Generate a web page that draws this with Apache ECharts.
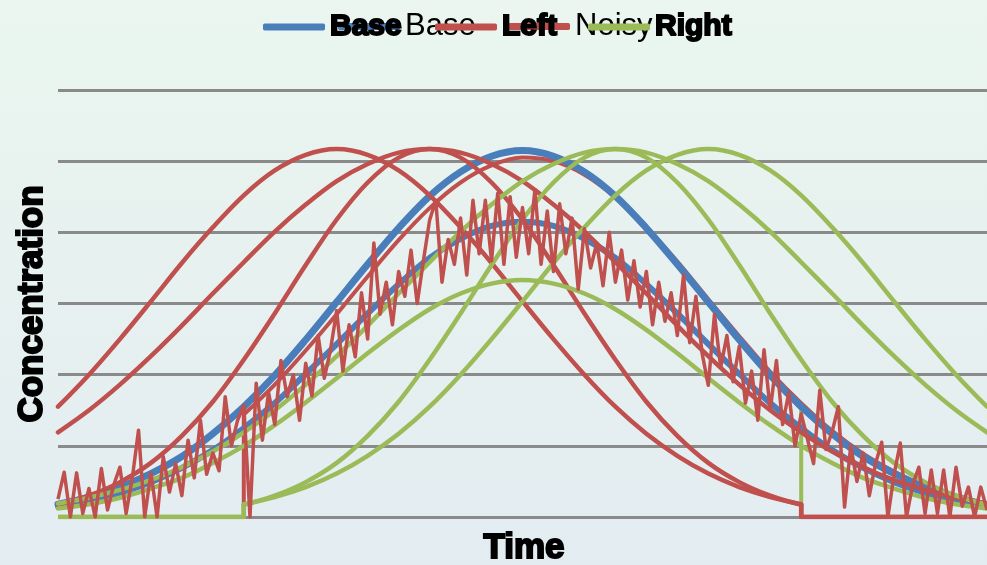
<!DOCTYPE html>
<html>
<head>
<meta charset="utf-8">
<script src="https://cdn.jsdelivr.net/npm/echarts@6/dist/echarts.min.js"></script>
<style>
  html, body { margin: 0; padding: 0; }
  #chart { width: 987px; height: 565px; }
</style>
</head>
<body>
<div id="chart"></div>
<script>
// Sample times for the smooth profiles (every 5 time units)
const T = [0,5,10,15,20,25,30,35,40,45,50,55,60,65,70,75,80,85,90,95,100,105,110,115,120,125,130,135,140,145,150];

// Base profiles
const baseTall = [0.18,0.28,0.42,0.61,0.85,1.17,1.55,1.99,2.49,3.02,3.55,4.06,4.51,4.85,5.07,5.15,5.07,4.85,4.51,4.06,3.55,3.02,2.49,1.99,1.55,1.17,0.85,0.61,0.42,0.28,0.16];
const baseLow  = [0.15,0.23,0.34,0.49,0.69,0.94,1.25,1.60,2.01,2.43,2.86,3.27,3.64,3.91,4.09,4.15,4.09,3.91,3.64,3.27,2.86,2.43,2.01,1.60,1.25,0.94,0.69,0.49,0.34,0.23,0.15];

// Left-shifted profiles (zero once shifted past the end)
const leftFar    = [1.55,2.00,2.50,3.03,3.57,4.07,4.52,4.87,5.09,5.17,5.09,4.87,4.52,4.07,3.57,3.03,2.50,2.00,1.55,1.17,0.86,0.61,0.42,0.28,0.18,0,0,0,0,0,0];
const leftNarrow = [0.17,0.30,0.49,0.76,1.14,1.62,2.21,2.86,3.54,4.18,4.70,5.05,5.17,5.05,4.70,4.18,3.54,2.86,2.21,1.62,1.14,0.76,0.49,0.30,0.17,0,0,0,0,0,0];
const leftWide   = [1.19,1.50,1.86,2.26,2.69,3.14,3.58,4.01,4.39,4.72,4.96,5.12,5.17,5.12,4.96,4.72,4.39,4.01,3.58,3.14,2.69,2.26,1.86,1.50,1.19,0.92,0.70,0.52,0.38,0.27,0.19];
// Base trace starting late (zero before t = 30)
const leftBase   = [0,0,0,0,0,0,1.44,1.86,2.34,2.85,3.38,3.89,4.34,4.70,4.94,5.05,5.00,4.81,4.49,4.07,3.59,3.06,2.54,2.04,1.60,1.21,0.89,0.64,0.44,0.30,0.19];

// Right-shifted profiles (zero before the shift)
const rightFar    = [0,0,0,0,0,0,0.18,0.28,0.42,0.61,0.86,1.17,1.55,2.00,2.50,3.03,3.57,4.07,4.52,4.87,5.09,5.17,5.09,4.87,4.52,4.07,3.57,3.03,2.50,2.00,1.55];
const rightNarrow = [0,0,0,0,0,0,0.17,0.30,0.49,0.76,1.14,1.62,2.21,2.86,3.54,4.18,4.70,5.05,5.17,5.05,4.70,4.18,3.54,2.86,2.21,1.62,1.14,0.76,0.49,0.30,0.17];
const rightWide   = [0.19,0.27,0.38,0.52,0.70,0.92,1.19,1.50,1.86,2.26,2.69,3.14,3.58,4.01,4.39,4.72,4.96,5.12,5.17,5.12,4.96,4.72,4.39,4.01,3.58,3.14,2.69,2.26,1.86,1.50,1.19];
const rightLow    = [0.12,0.18,0.27,0.40,0.55,0.76,1.00,1.29,1.61,1.95,2.30,2.63,2.92,3.14,3.28,3.33,3.28,3.14,2.92,2.63,2.30,1.95,1.61,1.29,1.00,0.76,0.55,0.40,0.27,0.18,0.12];
// Base trace ending early (zero after t = 120)
const rightBase   = [0.18,0.28,0.42,0.61,0.85,1.17,1.55,1.99,2.49,3.02,3.55,4.06,4.51,4.85,5.07,5.15,5.07,4.85,4.51,4.06,3.55,3.02,2.49,1.99,1.52,0,0,0,0,0,0];

// Noisy measurement, one value per time unit (t = 0..150)
const noisy = [
  0.25,0.63,0.00,0.62,0.05,0.40,0.00,0.68,0.10,0.45,0.70,
  0.05,0.55,1.22,0.00,0.62,0.00,0.85,0.35,0.75,0.30,
  1.08,0.55,1.36,0.60,0.90,0.65,1.69,1.00,1.36,1.57,
  0.00,1.88,1.08,1.75,1.30,2.20,1.69,2.00,1.36,2.16,
  1.70,2.55,1.95,2.35,2.90,2.05,2.70,2.25,3.15,2.50,
  3.85,2.85,3.30,2.70,3.45,3.10,3.75,3.00,3.60,4.17,
  4.45,3.30,3.90,3.55,4.20,3.40,4.45,3.70,4.45,3.60,
  4.55,3.55,4.50,3.65,4.35,3.70,4.60,3.55,4.30,3.45,
  4.40,3.70,4.20,3.20,4.05,3.50,3.85,3.25,4.00,3.30,
  3.75,3.05,3.60,2.95,3.45,2.70,3.30,2.75,3.15,2.55,
  3.40,2.45,3.10,2.30,1.85,2.85,2.10,2.55,1.90,2.40,
  1.60,2.05,1.36,2.35,1.50,2.20,1.30,1.75,1.00,1.45,
  1.10,0.75,1.78,0.95,1.20,1.55,0.14,1.00,0.50,0.90,
  0.30,0.75,1.05,0.00,0.60,1.04,0.00,0.45,0.70,0.05,
  0.66,0.05,0.66,0.00,0.70,0.15,0.42,0.00,0.42,0.10
];

// Legend labels
const LEGEND_BOLD = ['Base', 'Left', 'Right'];
const LEGEND_PLAIN = ['Base', 'Noisy'];

const BLUE = '#4a7ebb';
const RED = '#c0504d';
const GREEN = '#9bbb59';
const FONT = '"Liberation Sans", Arial, sans-serif';

// A profile is drawn as a smooth curve over its non-zero stretch plus a straight
// zero-padded stretch that meets the curve with a vertical edge.
function profileSeries(name, vals, color, width, z) {
  const curvePts = [], padPts = [];
  let first = -1, last = -1;
  vals.forEach((v, i) => { if (v > 0) { if (first < 0) first = i; last = i; } });
  for (let i = first; i <= last; i++) curvePts.push([T[i], vals[i]]);
  if (first > 0) padPts.push([T[0], 0], [T[first], 0], [T[first], vals[first]]);
  if (last < vals.length - 1) {
    if (padPts.length) padPts.push(null);
    padPts.push([T[last], vals[last]], [T[last], 0], [T[vals.length - 1], 0]);
  }
  const common = { type: 'line', symbol: 'none', z, silent: true, itemStyle: { color } };
  const out = [{
    ...common, name, data: curvePts, smooth: 0.35,
    lineStyle: { color, width, cap: 'round', join: 'round' }
  }];
  if (padPts.length) {
    out.push({
      ...common, name, data: padPts, smooth: false, connectNulls: false,
      lineStyle: { color, width, join: 'round' }
    });
  }
  return out;
}

function legendItem(name, left, bold, color) {
  return {
    data: [name], left, top: 6, orient: 'horizontal',
    icon: 'roundRect', itemWidth: 62, itemHeight: 7, itemGap: 0,
    selectedMode: false,
    itemStyle: { color },
    textStyle: bold
      ? { fontFamily: FONT, fontSize: 30, fontWeight: 'bold', color: '#000', textBorderColor: '#000', textBorderWidth: 2 }
      : { fontFamily: FONT, fontSize: 31, fontWeight: 'normal', color: '#000' }
  };
}

const chart = echarts.init(document.getElementById('chart'), null, { renderer: 'canvas' });

const option = {
  animation: false,
  backgroundColor: {
    type: 'linear', x: 0, y: 0, x2: 0, y2: 1,
    colorStops: [{ offset: 0, color: '#eaf6ef' }, { offset: 1, color: '#e3ecf1' }]
  },
  legend: [
    legendItem(LEGEND_PLAIN[0], 333, false, BLUE),
    legendItem(LEGEND_PLAIN[1], 503, false, RED),
    legendItem(LEGEND_BOLD[0], 258, true, BLUE),
    legendItem(LEGEND_BOLD[1], 430, true, RED),
    legendItem(LEGEND_BOLD[2], 583, true, GREEN)
  ],
  grid: { left: 58, right: 0, top: 90, bottom: 48, containLabel: false },
  xAxis: {
    type: 'value', min: 0, max: 150,
    axisLine: { show: false }, axisTick: { show: false }, axisLabel: { show: false },
    splitLine: { show: false }
  },
  yAxis: {
    type: 'value', min: 0, max: 6, interval: 1,
    axisLine: { show: false }, axisTick: { show: false }, axisLabel: { show: false },
    splitLine: { show: true, lineStyle: { color: '#8a8a8a', width: 3 } }
  },
  graphic: [
    {
      type: 'text', x: 32, y: 304, rotation: Math.PI / 2, z: 10,
      style: { text: 'Concentration', font: 'bold 35px ' + FONT, fill: '#000', stroke: '#000', lineWidth: 2,
               textAlign: 'center', textVerticalAlign: 'middle' }
    },
    {
      type: 'text', x: 524, y: 548, z: 10,
      style: { text: 'Time', font: 'bold 35px ' + FONT, fill: '#000', stroke: '#000', lineWidth: 2,
               textAlign: 'center', textVerticalAlign: 'middle' }
    }
  ],
  series: [
    ...profileSeries('Right', rightBase, GREEN, 4, 1),
    ...profileSeries('Left', leftBase, RED, 4, 2),
    ...profileSeries('Base', baseTall, BLUE, 7, 3),
    ...profileSeries('Base', baseLow, BLUE, 6, 3),
    ...profileSeries('Left', leftFar, RED, 4.5, 4),
    ...profileSeries('Left', leftNarrow, RED, 4.5, 4),
    ...profileSeries('Left', leftWide, RED, 4.5, 4),
    ...profileSeries('Right', rightLow, GREEN, 4.5, 5),
    ...profileSeries('Right', rightWide, GREEN, 4.5, 5),
    ...profileSeries('Right', rightNarrow, GREEN, 4.5, 5),
    ...profileSeries('Right', rightFar, GREEN, 4.5, 5),
    {
      name: 'Noisy', type: 'line', symbol: 'none', z: 6, silent: true,
      data: noisy.map((v, i) => [i, v]),
      lineStyle: { color: RED, width: 3.5, join: 'round' },
      itemStyle: { color: RED }
    }
  ]
};

chart.setOption(option);
</script>
</body>
</html>
